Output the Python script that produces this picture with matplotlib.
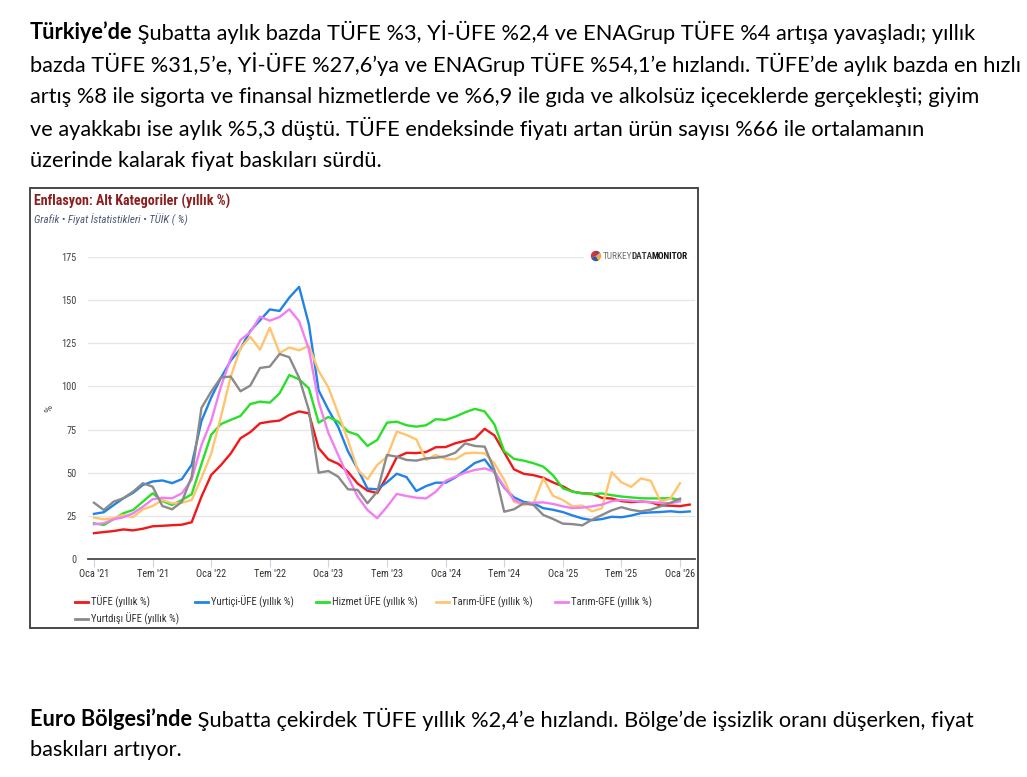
import os
import numpy as np
import matplotlib
matplotlib.use('Agg')
import matplotlib.pyplot as plt
from matplotlib import font_manager
from matplotlib.lines import Line2D
from matplotlib.patches import Rectangle, Wedge

# ---------------- data ----------------
series_names = ["TÜFE (yıllık %)", "Yurtiçi-ÜFE (yıllık %)", "Hizmet ÜFE (yıllık %)",
                "Tarım-ÜFE (yıllık %)", "Tarım-GFE (yıllık %)", "Yurtdışı ÜFE (yıllık %)"]
series_colors = ["#f01818", "#2283e6", "#27e027", "#ffc56e", "#f27ff2", "#8a8a8a"]

tufe = [14.97, 15.61, 16.19, 17.14, 16.59, 17.53, 18.95, 19.25, 19.58, 19.89, 21.31, 36.08,
        48.69, 54.44, 61.14, 69.97, 73.50, 78.62, 79.60, 80.21, 83.45, 85.51, 84.39, 64.27,
        57.68, 55.18, 50.51, 43.68, 39.59, 38.21, 47.83, 58.94, 61.53, 61.36, 61.98, 64.77,
        64.86, 67.07, 68.50, 69.80, 75.45, 71.60, 61.78, 51.97, 49.38, 48.58, 47.09, 44.38,
        42.12, 39.05, 38.10, 37.86, 35.41, 35.05, 33.52, 32.95, 33.29, 32.87, 31.07, 30.89,
        30.65, 31.53]
yi_ufe = [26.16, 27.09, 31.20, 35.17, 38.33, 42.89, 44.92, 45.52, 43.96, 46.31, 54.62, 79.89,
          93.53, 105.01, 114.97, 121.82, 132.16, 138.31, 144.61, 143.75, 151.50, 157.69, 136.02, 97.72,
          86.46, 76.61, 62.44, 52.11, 40.76, 40.42, 44.50, 49.41, 47.44, 39.37, 42.25, 44.22,
          44.20, 47.29, 51.47, 55.66, 57.68, 50.09, 41.37, 35.75, 33.09, 32.24, 29.47, 28.52,
          27.20, 25.21, 23.50, 22.50, 23.13, 24.45, 24.19, 25.16, 26.59, 27.00, 27.23, 27.67,
          27.17, 27.56]
hizmet_ufe = [20.7, 19.7, 23.0, 26.5, 28.4, 33.2, 38.1, 33.6, 31.3, 34.2, 37.5, 55.0,
              72.0, 78.2, 80.6, 82.9, 89.8, 91.2, 90.6, 96.0, 106.6, 104.1, 98.9, 79.0,
              82.3, 79.6, 73.8, 71.9, 65.5, 69.0, 79.0, 79.6, 77.5, 76.7, 77.5, 81.0,
              80.6, 82.5, 85.0, 87.0, 85.5, 78.0, 62.5, 58.0, 57.0, 55.5, 53.5, 48.5,
              41.0, 39.0, 38.0, 37.5, 38.0, 37.0, 36.2, 35.7, 35.2, 35.1, 35.1, 35.3,
              34.3]
tarim_ufe = [24.0, 23.0, 23.6, 25.5, 24.2, 28.8, 30.7, 34.2, 32.3, 32.6, 34.2, 47.0,
             61.0, 82.5, 105.7, 122.1, 128.8, 121.3, 134.0, 119.4, 122.6, 120.9, 123.5, 109.0,
             99.4, 84.4, 69.0, 51.6, 46.2, 54.5, 59.3, 73.8, 71.9, 69.3, 57.4, 60.3,
             58.0, 57.8, 61.2, 61.6, 61.2, 55.4, 45.8, 33.2, 31.3, 32.3, 46.7, 36.6,
             34.2, 30.5, 31.0, 27.6, 29.4, 50.3, 44.5, 41.8, 46.7, 45.3, 33.4, 35.0,
             43.9]
tarim_gfe = [20.1, 20.7, 23.0, 24.2, 26.5, 30.3, 34.6, 35.5, 35.2, 38.1, 46.0, 66.0,
             80.0, 100.0, 116.3, 126.9, 131.5, 140.4, 138.1, 140.2, 144.7, 137.8, 121.5, 91.0,
             73.0, 60.3, 47.7, 36.1, 28.4, 23.6, 30.3, 37.7, 36.5, 35.5, 35.1, 39.0,
             45.3, 47.7, 50.0, 51.6, 52.5, 50.6, 41.9, 34.2, 31.9, 32.6, 32.8, 31.9,
             30.5, 29.5, 29.8, 30.5, 31.5, 33.5, 34.2, 33.8, 33.3, 33.0, 32.5, 32.3,
             33.4]
yd_ufe = [32.6, 28.4, 33.2, 35.2, 39.0, 43.9, 41.9, 30.7, 28.8, 33.2, 47.7, 87.5,
          97.0, 105.2, 105.7, 97.2, 100.5, 110.7, 111.5, 118.8, 116.9, 105.0, 86.3, 50.0,
          51.0, 47.7, 40.4, 40.0, 32.3, 39.0, 60.3, 59.3, 57.4, 57.0, 58.3, 58.7,
          59.5, 61.6, 67.0, 65.5, 65.1, 51.6, 27.4, 28.8, 32.3, 31.3, 25.5, 23.2,
          20.5, 20.2, 19.5, 22.8, 25.5, 28.2, 30.0, 28.5, 27.6, 28.6, 30.5, 32.5,
          35.0]
series_values = [tufe, yi_ufe, hizmet_ufe, tarim_ufe, tarim_gfe, yd_ufe]

x_tick_months = [0, 6, 12, 18, 24, 30, 36, 42, 48, 54, 60]
x_tick_labels = ["Oca '21", "Tem '21", "Oca '22", "Tem '22", "Oca '23", "Tem '23",
                 "Oca '24", "Tem '24", "Oca '25", "Tem '25", "Oca '26"]
y_ticks = [0, 25, 50, 75, 100, 125, 150, 175]

chart_title = "Enflasyon: Alt Kategoriler (yıllık %)"
chart_subtitle = "Grafik • Fiyat İstatistikleri • TÜİK ( %)"

top_lines = [
    [("Türkiye’de", True), (" Şubatta aylık bazda TÜFE %3, Yİ-ÜFE %2,4 ve ENAGrup TÜFE %4 artışa yavaşladı; yıllık", False)],
    [("bazda TÜFE %31,5’e, Yİ-ÜFE %27,6’ya ve ENAGrup TÜFE %54,1’e hızlandı. TÜFE’de aylık bazda en hızlı", False)],
    [("artış %8 ile sigorta ve finansal hizmetlerde ve %6,9 ile gıda ve alkolsüz içeceklerde gerçekleşti; giyim", False)],
    [("ve ayakkabı ise aylık %5,3 düştü. TÜFE endeksinde fiyatı artan ürün sayısı %66 ile ortalamanın", False)],
    [("üzerinde kalarak fiyat baskıları sürdü.", False)],
]
bottom_lines = [
    [("Euro Bölgesi’nde", True), (" Şubatta çekirdek TÜFE yıllık %2,4’e hızlandı. Bölge’de işsizlik oranı düşerken, fiyat", False)],
    [("baskıları artıyor.", False)],
]

# ---------------- fonts ----------------
names = {f.name for f in font_manager.fontManager.ttflist}
if 'Liberation Sans Narrow' in names:
    CF, k = 'Liberation Sans Narrow', 1.0
elif 'Roboto Condensed' in names:
    CF, k = 'Roboto Condensed', 0.95
else:
    CF, k = 'Liberation Sans', 0.82
TF = 'Lato'

W, H = 1027, 777
fig = plt.figure(figsize=(W / 100, H / 100), dpi=100)
fig.patch.set_facecolor('white')
renderer = fig.canvas.get_renderer()


def fx(px):
    return px / W


def fy(py):
    return 1 - py / H


def seg_width(segs, size):
    w = 0
    for s, b in segs:
        t = fig.text(0, 0, s, fontsize=size, family=TF, fontweight='bold' if b else 'normal')
        w += t.get_window_extent(renderer).width
        t.remove()
    return w


def draw_segs(x, y, segs, size):
    for s, b in segs:
        t = fig.text(fx(x), fy(y), s, fontsize=size, family=TF,
                     fontweight='bold' if b else 'normal', va='center_baseline', ha='left', color='black')
        x += t.get_window_extent(renderer).width


# fit paragraph font size to reference line widths
targets = [(top_lines[0], 947), (top_lines[1], 983), (top_lines[2], 950), (top_lines[3], 894),
           (bottom_lines[0], 952)]
ratios = [tw / seg_width(segs, 14) for segs, tw in targets]
PS = 14 * float(np.mean(ratios))

for i, segs in enumerate(top_lines):
    draw_segs(30, 30 + i * 32.3, segs, PS)
for i, segs in enumerate(bottom_lines):
    draw_segs(30, 717 + i * 31, segs, PS)

# ---------------- chart frame ----------------
fig.patches.append(Rectangle((fx(30), fy(628)), fx(698) - fx(30), (628 - 188) / H,
                             transform=fig.transFigure, fill=False, ec='#3a3a3a', lw=1.3))

fig.text(fx(34), fy(201), chart_title, family=CF, fontsize=10.6 * k, fontweight='bold',
         color='#8b1f1f', va='center', ha='left')
fig.text(fx(34), fy(220), chart_subtitle, family=CF, fontsize=8.3 * k, style='italic',
         color='#4b5a78', va='center', ha='left')

# ---------------- axes ----------------
step = (680 - 94) / 60.0
ax = fig.add_axes([fx(88), fy(559), fx(695) - fx(88), (559 - 257) / H])
ax.set_xlim((88 - 94) / step, (695 - 94) / step)
ax.set_ylim(0, 175)
for sp in ['top', 'right', 'left']:
    ax.spines[sp].set_visible(False)
ax.spines['bottom'].set_color('#4a4a4a')
ax.spines['bottom'].set_linewidth(1.3)
ax.set_yticks(y_ticks)
ax.set_yticklabels([str(v) for v in y_ticks])
ax.tick_params(axis='y', length=0, pad=8, labelsize=7.8 * k, labelcolor='#444444')
ax.set_xticks(x_tick_months)
ax.set_xticklabels(x_tick_labels)
ax.tick_params(axis='x', length=6, width=0.8, color='#ccd6eb', pad=1.5,
               labelsize=7.8 * k, labelcolor='#333333')
for lab in ax.get_xticklabels() + ax.get_yticklabels():
    lab.set_family(CF)
ax.yaxis.grid(True, color='#e6e6e6', lw=0.9)
ax.set_axisbelow(True)
ax.set_ylabel('%', family=CF, fontsize=8.5 * k, color='#555555', labelpad=5)

for vals, col in zip(series_values, series_colors):
    ax.plot(np.arange(len(vals)), vals, color=col, lw=1.7, clip_on=False, solid_joinstyle='round')

# ---------------- logo ----------------
fig.patches.append(Rectangle((fx(584), fy(264)), fx(694) - fx(584), 16 / H,
                             transform=fig.transFigure, fc='white', ec='none', zorder=3))
cx, cy, r = 596 / 100, (H - 256) / 100, 0.052
for t1, t2, c in [(90, 200, '#d6342c'), (200, 300, '#2f5ba5'), (300, 400, '#f2a934'), (40, 90, '#7b3f8f')]:
    fig.patches.append(Wedge((cx, cy), r, t1, t2, transform=fig.dpi_scale_trans, fc=c, ec='none', zorder=4))
xl = 603
for s, wt, col in [("TURKEY", 'normal', '#707070'), ("DATA", 'bold', '#3a3a3a'), ("MONITOR", 'bold', '#111111')]:
    t = fig.text(fx(xl), fy(256.5), s, family=CF, fontsize=7.0 * k, fontweight=wt, color=col,
                 va='center', ha='left', zorder=5)
    xl += t.get_window_extent(renderer).width - 1.0

# ---------------- legend ----------------
leg_pos = [(75, 602), (195, 602), (316, 602), (436, 602), (555, 602), (75, 619)]
for name, col, (lx, ly) in zip(series_names, series_colors, leg_pos):
    fig.lines.append(Line2D([fx(lx), fx(lx + 13)], [fy(ly), fy(ly)], transform=fig.transFigure,
                            color=col, lw=2))
    fig.text(fx(lx + 16), fy(ly), name, family=CF, fontsize=8.1 * k, color='#333333',
             va='center', ha='left')

fig.savefig('out.png', dpi=100, facecolor='white')
